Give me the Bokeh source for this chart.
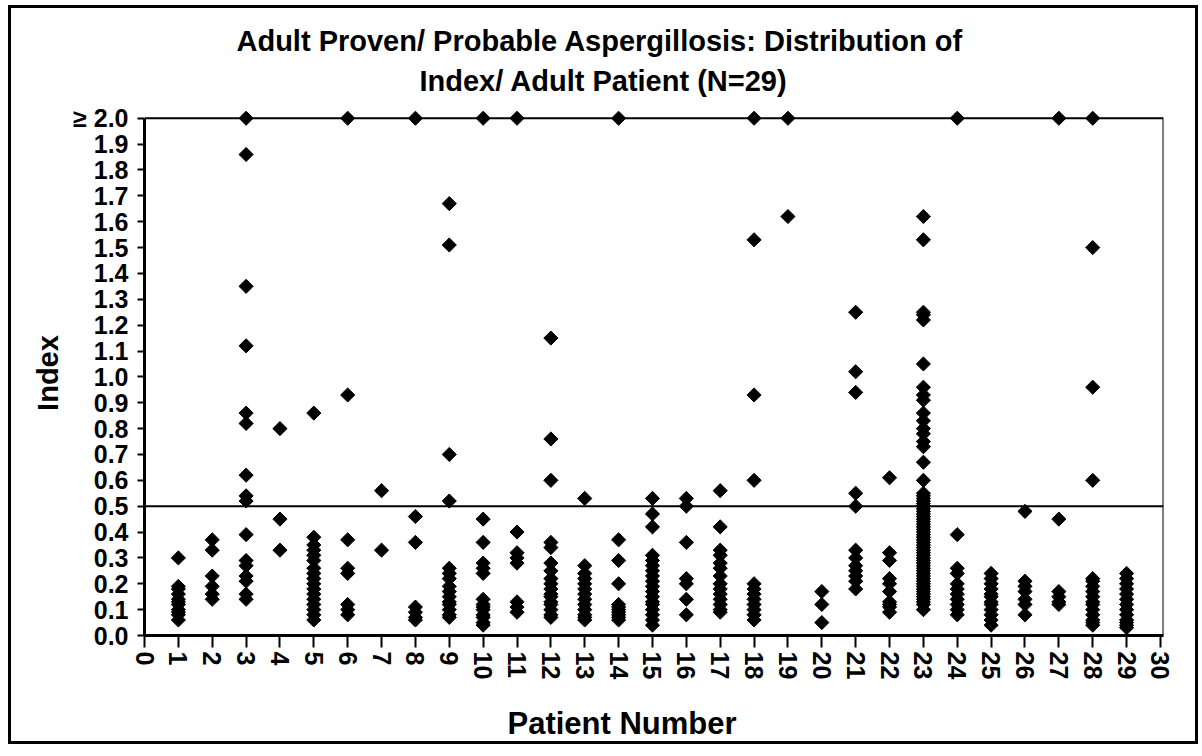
import math
from bokeh.plotting import figure
from bokeh.models import Range1d, FixedTicker, Span, BoxAnnotation, Title, ColumnDataSource
from bokeh.embed import file_html
from bokeh.resources import INLINE

# ---- data: index values per adult patient (values >= 2.0 plotted at 2.0) ----
patient_01 = [0.30, 0.19, 0.18, 0.16, 0.14, 0.13, 0.12, 0.10, 0.09, 0.08, 0.06]
patient_02 = [0.37, 0.33, 0.23, 0.19, 0.16, 0.14]
patient_03 = [2.0, 1.86, 1.35, 1.12, 0.86, 0.82, 0.62, 0.54, 0.52, 0.39, 0.29, 0.27, 0.23, 0.21, 0.16, 0.14]
patient_04 = [0.80, 0.45, 0.33]
patient_05 = [0.86, 0.38, 0.35, 0.33, 0.31, 0.29, 0.26, 0.24, 0.22, 0.20, 0.18, 0.16, 0.14, 0.12, 0.10, 0.08, 0.06]
patient_06 = [2.0, 0.93, 0.37, 0.26, 0.24, 0.12, 0.10, 0.08]
patient_07 = [0.56, 0.33]
patient_08 = [2.0, 0.46, 0.36, 0.11, 0.09, 0.07, 0.06]
patient_09 = [1.67, 1.51, 0.70, 0.52, 0.26, 0.24, 0.22, 0.19, 0.17, 0.15, 0.13, 0.12, 0.10, 0.08, 0.07]
patient_10 = [2.0, 0.45, 0.36, 0.28, 0.26, 0.24, 0.14, 0.12, 0.11, 0.10, 0.08, 0.07, 0.05, 0.04]
patient_11 = [2.0, 0.40, 0.32, 0.30, 0.28, 0.13, 0.11, 0.09]
patient_12 = [1.15, 0.76, 0.60, 0.36, 0.34, 0.28, 0.25, 0.22, 0.20, 0.18, 0.16, 0.15, 0.13, 0.12, 0.10, 0.08, 0.07]
patient_13 = [0.53, 0.27, 0.24, 0.22, 0.20, 0.18, 0.16, 0.14, 0.12, 0.10, 0.08, 0.07, 0.06]
patient_14 = [2.0, 0.37, 0.29, 0.20, 0.12, 0.11, 0.10, 0.09, 0.08, 0.07, 0.06]
patient_15 = [0.53, 0.47, 0.42, 0.31, 0.29, 0.27, 0.25, 0.23, 0.21, 0.19, 0.17, 0.15, 0.13, 0.12, 0.10, 0.08, 0.06, 0.04]
patient_16 = [0.53, 0.50, 0.36, 0.22, 0.20, 0.14, 0.08]
patient_17 = [0.56, 0.42, 0.33, 0.31, 0.28, 0.26, 0.23, 0.20, 0.18, 0.16, 0.14, 0.12, 0.10, 0.09]
patient_18 = [2.0, 1.53, 0.93, 0.60, 0.20, 0.18, 0.16, 0.14, 0.12, 0.10, 0.08, 0.06]
patient_19 = [2.0, 1.62]
patient_20 = [0.17, 0.12, 0.05]
patient_21 = [1.25, 1.02, 0.94, 0.55, 0.50, 0.33, 0.30, 0.27, 0.25, 0.23, 0.21, 0.18]
patient_22 = [0.61, 0.32, 0.29, 0.22, 0.20, 0.17, 0.13, 0.12, 0.11, 0.09]
patient_23 = [1.62, 1.53, 1.25, 1.24, 1.22, 1.05, 0.96, 0.93, 0.91, 0.86, 0.83, 0.80, 0.78,
              0.75, 0.73, 0.67, 0.60, 0.55, 0.54, 0.53, 0.52, 0.51, 0.50, 0.49, 0.48, 0.47,
              0.46, 0.45, 0.44, 0.43, 0.42, 0.41, 0.40, 0.39, 0.38, 0.37, 0.36, 0.35, 0.34,
              0.33, 0.32, 0.31, 0.30, 0.29, 0.28, 0.27, 0.26, 0.25, 0.24, 0.23, 0.22, 0.21,
              0.20, 0.19, 0.18, 0.17, 0.16, 0.15, 0.14, 0.13, 0.12, 0.10]
patient_24 = [2.0, 0.39, 0.26, 0.24, 0.20, 0.18, 0.16, 0.14, 0.12, 0.10, 0.08]
patient_25 = [0.24, 0.22, 0.20, 0.18, 0.16, 0.15, 0.13, 0.12, 0.10, 0.08, 0.06, 0.04]
patient_26 = [0.48, 0.21, 0.19, 0.17, 0.14, 0.12, 0.08]
patient_27 = [2.0, 0.45, 0.17, 0.15, 0.13, 0.12]
patient_28 = [2.0, 1.50, 0.96, 0.60, 0.22, 0.21, 0.19, 0.17, 0.15, 0.13, 0.12, 0.10, 0.08, 0.06, 0.05, 0.04]
patient_29 = [0.24, 0.22, 0.20, 0.18, 0.16, 0.14, 0.12, 0.10, 0.08, 0.06, 0.05, 0.04, 0.03]

patients = [patient_01, patient_02, patient_03, patient_04, patient_05, patient_06,
            patient_07, patient_08, patient_09, patient_10, patient_11, patient_12,
            patient_13, patient_14, patient_15, patient_16, patient_17, patient_18,
            patient_19, patient_20, patient_21, patient_22, patient_23, patient_24,
            patient_25, patient_26, patient_27, patient_28, patient_29]

cutoff = 0.5
x_ticks = list(range(0, 31))
y_ticks = [0.0, 0.1, 0.2, 0.3, 0.4, 0.5, 0.6, 0.7, 0.8, 0.9, 1.0,
           1.1, 1.2, 1.3, 1.4, 1.5, 1.6, 1.7, 1.8, 1.9, 2.0]
y_tick_labels = ["0.0", "0.1", "0.2", "0.3", "0.4", "0.5", "0.6", "0.7", "0.8", "0.9", "1.0",
                 "1.1", "1.2", "1.3", "1.4", "1.5", "1.6", "1.7", "1.8", "1.9", "\u2265 2.0"]
title_line1 = "Adult Proven/ Probable Aspergillosis: Distribution of"
title_line2 = "Index/ Adult Patient (N=29)"
x_label = "Patient Number"
y_label = "Index"

xs, ys = [], []
for num, vals in enumerate(patients, start=1):
    xs.extend([num] * len(vals))
    ys.extend(vals)
src = ColumnDataSource(dict(x=xs, y=ys))

FONT = "Liberation Sans"
X_MAX = 30.09
Y_MAX = 2.03

p = figure(x_range=Range1d(0, X_MAX), y_range=Range1d(0, Y_MAX),
           frame_width=1019, frame_height=525,
           min_border_left=133, min_border_right=32,
           min_border_top=102, min_border_bottom=60,
           output_backend="svg", toolbar_location=None,
           background_fill_color="white", border_fill_color="white")
p.styles = {"border": "3px solid black", "margin-left": "8px", "margin-top": "5px"}
p.outline_line_color = None
p.grid.visible = False

# frame box (top at 2.0, right border)
p.add_layout(BoxAnnotation(left=0, right=X_MAX, bottom=0, top=2.0,
                           fill_color=None, line_color="black", line_alpha=1.0, line_width=2))
# cutoff line
p.add_layout(Span(location=cutoff, dimension="width", line_color="black", line_width=2))

p.scatter("x", "y", source=src, marker="square", angle=math.pi / 4, size=10,
          fill_color="black", line_color="black")

xa = p.xaxis[0]
xa.ticker = FixedTicker(ticks=x_ticks)
xa.major_label_orientation = "vertical"
xa.major_label_text_font = FONT
xa.major_label_text_font_style = "bold"
xa.major_label_text_font_size = "25px"
xa.major_label_text_color = "black"
xa.major_tick_out = 12
xa.major_tick_in = 0
xa.minor_tick_out = 0
xa.minor_tick_in = 0
xa.major_tick_line_width = 2
xa.axis_line_width = 3
xa.major_label_standoff = 4

ya = p.yaxis[0]
ya.ticker = FixedTicker(ticks=y_ticks)
ya.major_label_overrides = {t: l for t, l in zip(y_ticks, y_tick_labels)}
ya.bounds = (0, 2.0)
ya.major_label_text_font = FONT
ya.major_label_text_font_style = "bold"
ya.major_label_text_font_size = "25px"
ya.major_label_text_color = "black"
ya.major_tick_out = 7
ya.major_tick_in = 0
ya.minor_tick_out = 0
ya.minor_tick_in = 0
ya.major_tick_line_width = 2
ya.axis_line_width = 3
ya.major_label_standoff = 9
ya.axis_label = y_label
ya.axis_label_text_font = FONT
ya.axis_label_text_font_style = "bold"
ya.axis_label_text_font_size = "29px"
ya.axis_label_text_color = "black"
ya.axis_label_standoff = 6

# spacer between tick labels and the x title (keeps little room below the title)
spacer = Title(text=" ", standoff=7, text_font=FONT, text_font_size="10px")
p.add_layout(spacer, "below")
xl = Title(text=x_label, align="left", offset=363, standoff=2,
           text_font=FONT, text_font_style="bold", text_font_size="31px", text_color="black")
p.add_layout(xl, "below")

t2 = Title(text=title_line2, align="left", offset=275, standoff=27,
           text_font=FONT, text_font_style="bold", text_font_size="29px", text_color="black")
t1 = Title(text=title_line1, align="left", offset=92, standoff=-15,
           text_font=FONT, text_font_style="bold", text_font_size="29px", text_color="black")
p.add_layout(t2, "above")
p.add_layout(t1, "above")

open("out.html", "w").write(file_html(p, INLINE))
